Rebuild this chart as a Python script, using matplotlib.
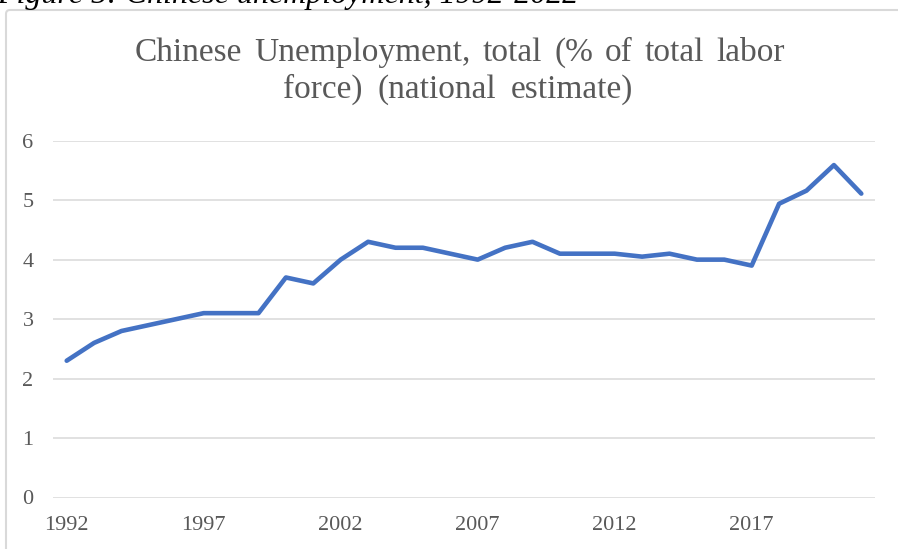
import matplotlib
matplotlib.use('Agg')
import matplotlib.pyplot as plt
from matplotlib.patches import FancyBboxPatch

plt.rcParams['font.family'] = ['Liberation Serif', 'DejaVu Serif']

# World Bank series, 1992-2021
years = list(range(1992, 2022))
unemployment = [2.3, 2.6, 2.8, 2.9, 3.0, 3.1, 3.1, 3.1, 3.7, 3.6,
                4.0, 4.3, 4.2, 4.2, 4.1, 4.0, 4.2, 4.3, 4.1, 4.1,
                4.1, 4.05, 4.1, 4.0, 4.0, 3.9, 4.94, 5.16, 5.59, 5.11]
year_ticks = [1992, 1997, 2002, 2007, 2012, 2017]
y_ticks = [0, 1, 2, 3, 4, 5, 6]
title_lines = ['Chinese Unemployment, total (% of total labor',
               'force) (national estimate)']

grey_text = '#595959'
grid_col = '#D9D9D9'

W, H = 898, 549
fig = plt.figure(figsize=(W / 100, H / 100), dpi=100)

# chart frame (only the top-left part shows on the page)
frame = FancyBboxPatch((0.06, -0.5), 10, H / 100 - 0.10 + 0.5,
                       boxstyle='round,pad=0,rounding_size=0.04',
                       transform=fig.dpi_scale_trans, facecolor='white',
                       edgecolor=grid_col, linewidth=1.5, clip_on=False,
                       zorder=-5)
fig.patches.append(frame)

# figure caption, mostly cut off at the top edge
fig.text(-0.003, 1 - 3.5 / H, 'Figure 5: Chinese unemployment, 1992-2022',
         fontsize=23, style='italic', color='black', ha='left', va='baseline')

ax = fig.add_axes([53 / W, 1 - 497.5 / H, (875 - 53) / W, (497.5 - 140.7) / H])
ax.set_facecolor('none')
ax.plot(years, unemployment, color='#4472C4', linewidth=3.3,
        solid_joinstyle='round', solid_capstyle='round', zorder=3, clip_on=False)

ax.set_xlim(1991.5, 2021.5)
ax.set_ylim(0, 6)
ax.set_yticks(y_ticks)
ax.set_xticks(year_ticks)
ax.set_xticklabels([str(y) for y in year_ticks])
ax.grid(axis='y', color=grid_col, linewidth=1.1)
ax.set_axisbelow(True)
for s in ax.spines.values():
    s.set_visible(False)
ax.tick_params(axis='both', length=0, labelsize=16, labelcolor=grey_text)
ax.tick_params(axis='y', pad=14)
ax.tick_params(axis='x', pad=13)

# chart title: words spread out to span (left, right) in pixels on each line
renderer = fig.canvas.get_renderer()
spans = [(135, 785, 61), (283, 633, 98)]
for line, (x0, x1, base) in zip(title_lines, spans):
    words = line.split(' ')
    texts = [fig.text(0, 1 - base / H, w, fontsize=24, color=grey_text,
                      ha='left', va='baseline') for w in words]
    widths = [t.get_window_extent(renderer).width for t in texts]
    gap = (x1 - x0 - sum(widths)) / (len(words) - 1)
    x = x0
    for t, w in zip(texts, widths):
        t.set_x(x / W)
        x += w + gap

fig.savefig('out.png', dpi=100, facecolor='white')
plt.close(fig)
